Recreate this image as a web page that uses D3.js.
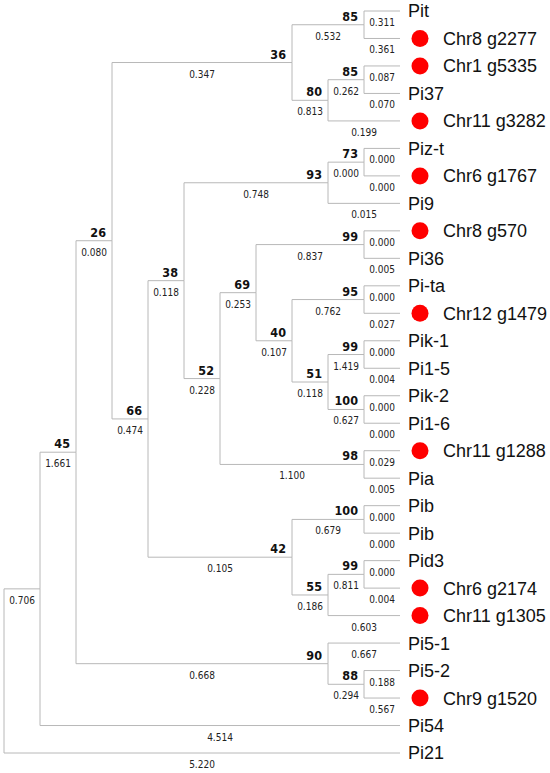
<!DOCTYPE html>
<html>
<head>
<meta charset="utf-8">
<script src="https://cdn.jsdelivr.net/npm/d3@7"></script>
<style>
  html, body { margin: 0; padding: 0; background: #fff; }
  svg { display: block; }
</style>
</head>
<body>
<svg id="chart" width="550" height="773"></svg>
<script>
// ---- Data ----
const nodeIds = ["root","A","N45","N26","N36","N85a","L1","L2","N80","N85b","L3","L4","L5",
  "N66","N38","N93","N73","L6","L7","L8","N52","N69","N99a","L9","L10","N40","N95","L11","L12",
  "N51","N99b","L13","L14","N100a","L15","L16","N98","L17","L18","N42","N100b","L19","L20",
  "N55","N99c","L21","L22","L23","N90","L24","N88","L25","L26","L27","L28"];
const parentIds = ["","root","A","N45","N26","N36","N85a","N85a","N36","N80","N85b","N85b","N80",
  "N26","N66","N38","N93","N73","N73","N93","N38","N52","N69","N99a","N99a","N69","N40","N95","N95",
  "N40","N51","N99b","N99b","N51","N100a","N100a","N52","N98","N98","N66","N42","N100b","N100b",
  "N42","N55","N99c","N99c","N55","N45","N90","N90","N88","N88","A","root"];
const leafNames = ["","","","","","","Pit","Chr8 g2277","","","Chr1 g5335","Pi37","Chr11 g3282",
  "","","","","Piz-t","Chr6 g1767","Pi9","","","","Chr8 g570","Pi36","","","Pi-ta","Chr12 g1479",
  "","","Pik-1","Pi1-5","","Pik-2","Pi1-6","","Chr11 g1288","Pia","","","Pib","Pib",
  "","","Pid3","Chr6 g2174","Chr11 g1305","","Pi5-1","","Pi5-2","Chr9 g1520","Pi54","Pi21"];
const bootstrap = [null,null,45,26,36,85,null,null,80,85,null,null,null,
  66,38,93,73,null,null,null,52,69,99,null,null,40,95,null,null,
  51,99,null,null,100,null,null,98,null,null,42,100,null,null,
  55,99,null,null,null,90,null,88,null,null,null,null];
const branchLength = [null,0.706,1.661,0.080,0.347,0.532,0.311,0.361,0.813,0.262,0.087,0.070,0.199,
  0.474,0.118,0.748,0.000,0.000,0.000,0.015,0.228,0.253,0.837,0.000,0.005,0.107,0.762,0.000,0.027,
  0.118,1.419,0.000,0.004,0.627,0.000,0.000,1.100,0.029,0.005,0.105,0.679,0.000,0.000,
  0.186,0.811,0.000,0.004,0.603,0.668,0.667,0.294,0.188,0.567,4.514,5.220];
const markedLeaves = ["Chr8 g2277","Chr1 g5335","Chr11 g3282","Chr6 g1767","Chr8 g570",
  "Chr12 g1479","Chr11 g1288","Chr6 g2174","Chr11 g1305","Chr9 g1520"];

// ---- Build hierarchy ----
const rows = nodeIds.map((id, i) => ({
  id, parent: parentIds[i] || null, name: leafNames[i], support: bootstrap[i], len: branchLength[i]
}));
const root = d3.stratify().id(d => d.id).parentId(d => d.parent)(rows);
const nLeaves = root.leaves().length;

d3.cluster().size([1, 1]).separation(() => 1)(root);

const yScale = d3.scaleLinear()
  .domain([0.5 / nLeaves, (nLeaves - 0.5) / nLeaves])
  .range([11, 753]);
const xScale = d3.scaleLinear().domain([0, 1]).range([4, 400]);

root.each(d => { d.px = xScale(d.y); d.py = yScale(d.x); });

const svg = d3.select("#chart");
const lineColor = "#b8b8b8";
const numFont = "'DejaVu Sans Condensed', 'DejaVu Sans', Verdana, sans-serif";

// Links (elbow)
svg.append("g")
  .selectAll("path")
  .data(root.links())
  .join("path")
  .attr("d", l => `M${l.source.px},${l.source.py}V${l.target.py}H${l.target.px}`)
  .attr("fill", "none")
  .attr("stroke", lineColor)
  .attr("stroke-width", 1);

// Branch length labels
svg.append("g")
  .selectAll("text")
  .data(root.descendants().filter(d => d.parent && d.data.len !== null))
  .join("text")
  .attr("x", d => (d.parent.px + d.px) / 2)
  .attr("y", d => d.py + 15)
  .attr("text-anchor", "middle")
  .attr("font-family", numFont)
  .attr("font-stretch", "condensed")
  .attr("font-size", 10)
  .attr("fill", "#222")
  .text(d => d3.format(".3f")(d.data.len));

// Bootstrap labels
svg.append("g")
  .selectAll("text")
  .data(root.descendants().filter(d => d.data.support !== null))
  .join("text")
  .attr("x", d => d.px - 6)
  .attr("y", d => d.py - 4)
  .attr("text-anchor", "end")
  .attr("font-family", numFont)
  .attr("font-stretch", "condensed")
  .attr("font-weight", "bold")
  .attr("font-size", 12.5)
  .attr("fill", "#111")
  .text(d => d.data.support);

// Leaves
const leaves = svg.append("g")
  .selectAll("g")
  .data(root.leaves())
  .join("g")
  .attr("transform", d => `translate(${d.px},${d.py})`);

leaves.filter(d => markedLeaves.includes(d.data.name))
  .append("circle")
  .attr("cx", 20)
  .attr("cy", 0)
  .attr("r", 8.5)
  .attr("fill", "#ff0000");

leaves.append("text")
  .attr("x", d => markedLeaves.includes(d.data.name) ? 43 : 8)
  .attr("y", 0)
  .attr("dy", "0.36em")
  .attr("font-family", "'Liberation Sans', Arial, sans-serif")
  .attr("font-size", 18)
  .attr("fill", "#111")
  .text(d => d.data.name);
</script>
</body>
</html>
